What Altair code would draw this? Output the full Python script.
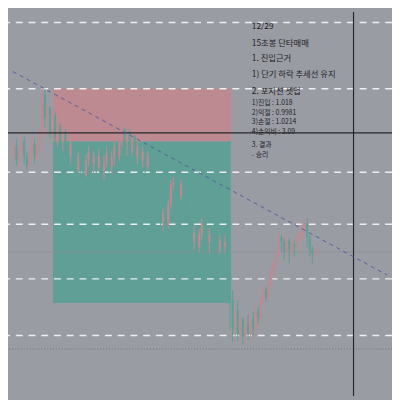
import altair as alt
import pandas as pd

# ---------------- data ----------------
# 15-second candles, prices
OPEN = [1.0150,1.0160,1.0145,1.0155,1.0165,1.0150,1.0140,1.0152,1.0162,1.0150,
        1.0160,1.0172,1.0215,1.0190,1.0200,1.0175,1.0192,1.0170,1.0180,1.0165,
        1.0175,1.0160,1.0150,1.0162,1.0145,1.0135,1.0150,1.0140,1.0130,1.0145,
        1.0155,1.0142,1.0150,1.0138,1.0150,1.0135,1.0142,1.0152,1.0140,1.0148,
        1.0160,1.0150,1.0170,1.0178,1.0165,1.0175,1.0155,1.0170,1.0150,1.0160,
        1.0145,1.0155,1.0140,1.0150,1.0135,1.0120,1.0105,1.0095,1.0082,1.0090,
        1.0078,1.0100,1.0120,1.0122,1.0118,1.0108,1.0120,1.0102,1.0090,1.0072,
        1.0060,1.0070,1.0055,1.0068,1.0080,1.0072,1.0060,1.0068,1.0062,1.0058,
        1.0052,1.0062,1.0055,1.0060,1.0050,1.0000,0.9970,0.9990,0.9965,0.9980,
        0.9962,0.9975,0.9965,0.9980,0.9970,0.9990,0.9982,1.0000,1.0010,1.0002,
        1.0018,1.0030,1.0038,1.0050,1.0065,1.0060,1.0050,1.0062,1.0052,1.0058,
        1.0055,1.0065,1.0068,1.0078,1.0080,1.0065,1.0052,1.0048]
HIGH = [1.0165,1.0168,1.0160,1.0172,1.0170,1.0155,1.0160,1.0175,1.0168,1.0165,
        1.0180,1.0223,1.0220,1.0205,1.0202,1.0198,1.0195,1.0192,1.0185,1.0180,
        1.0178,1.0165,1.0170,1.0165,1.0150,1.0155,1.0158,1.0145,1.0152,1.0160,
        1.0160,1.0155,1.0155,1.0157,1.0152,1.0150,1.0160,1.0158,1.0155,1.0165,
        1.0164,1.0175,1.0182,1.0180,1.0180,1.0178,1.0175,1.0172,1.0168,1.0162,
        1.0160,1.0160,1.0155,1.0152,1.0140,1.0125,1.0110,1.0100,1.0095,1.0094,
        1.0105,1.0125,1.0128,1.0127,1.0122,1.0126,1.0124,1.0105,1.0095,1.0078,
        1.0078,1.0075,1.0074,1.0085,1.0085,1.0078,1.0075,1.0074,1.0070,1.0064,
        1.0068,1.0070,1.0067,1.0065,1.0055,1.0010,0.9995,1.0000,0.9985,0.9982,
        0.9980,0.9985,0.9985,0.9988,0.9998,0.9994,1.0005,1.0016,1.0014,1.0022,
        1.0035,1.0042,1.0055,1.0070,1.0068,1.0064,1.0067,1.0065,1.0064,1.0062,
        1.0070,1.0072,1.0082,1.0084,1.0085,1.0068,1.0056,1.0054]
LOW  = [1.0145,1.0140,1.0138,1.0150,1.0142,1.0135,1.0137,1.0148,1.0142,1.0145,
        1.0155,1.0168,1.0180,1.0172,1.0168,1.0170,1.0165,1.0160,1.0158,1.0155,
        1.0150,1.0140,1.0142,1.0135,1.0128,1.0132,1.0130,1.0125,1.0128,1.0140,
        1.0135,1.0132,1.0130,1.0134,1.0128,1.0125,1.0138,1.0130,1.0132,1.0140,
        1.0142,1.0145,1.0160,1.0155,1.0150,1.0145,1.0150,1.0140,1.0142,1.0135,
        1.0138,1.0132,1.0135,1.0128,1.0115,1.0100,1.0088,1.0075,1.0072,1.0072,
        1.0075,1.0095,1.0115,1.0110,1.0104,1.0105,1.0097,1.0082,1.0065,1.0050,
        1.0052,1.0048,1.0050,1.0062,1.0060,1.0052,1.0050,1.0055,1.0050,1.0045,
        1.0048,1.0048,1.0050,1.0042,0.9970,0.9957,0.9955,0.9958,0.9960,0.9954,
        0.9952,0.9958,0.9960,0.9963,0.9965,0.9975,0.9978,0.9995,0.9998,1.0000,
        1.0014,1.0025,1.0035,1.0045,1.0050,1.0042,1.0044,1.0038,1.0048,1.0045,
        1.0050,1.0060,1.0062,1.0070,1.0055,1.0045,1.0038,1.0044]
CLOSE = [1.0160,1.0145,1.0155,1.0165,1.0150,1.0140,1.0152,1.0162,1.0150,1.0160,
         1.0172,1.0215,1.0190,1.0200,1.0175,1.0192,1.0170,1.0180,1.0165,1.0175,
         1.0160,1.0150,1.0162,1.0145,1.0135,1.0150,1.0140,1.0130,1.0145,1.0155,
         1.0142,1.0150,1.0138,1.0150,1.0135,1.0142,1.0152,1.0140,1.0148,1.0160,
         1.0150,1.0170,1.0178,1.0165,1.0175,1.0155,1.0170,1.0150,1.0160,1.0145,
         1.0155,1.0140,1.0150,1.0135,1.0120,1.0105,1.0095,1.0082,1.0090,1.0078,
         1.0100,1.0120,1.0122,1.0118,1.0108,1.0120,1.0102,1.0090,1.0072,1.0060,
         1.0070,1.0055,1.0068,1.0080,1.0072,1.0060,1.0068,1.0062,1.0058,1.0052,
         1.0062,1.0055,1.0060,1.0050,1.0000,0.9970,0.9990,0.9965,0.9980,0.9962,
         0.9975,0.9965,0.9980,0.9970,0.9990,0.9982,1.0000,1.0010,1.0002,1.0018,
         1.0030,1.0038,1.0050,1.0065,1.0060,1.0050,1.0062,1.0052,1.0058,1.0055,
         1.0065,1.0068,1.0078,1.0080,1.0065,1.0052,1.0048,1.0050]

DASHED_LEVELS = [1.0289, 1.0220, 1.0133, 1.0079, 1.0022, 0.9963]
DOTTED_LEVEL = [0.9949]
SOLID_LEVEL = [1.0174]
THIN_LEVEL = [1.0050]

# position box: start/end bar, stop, entry, target
BOX_START, BOX_END = 15.6, 84.7
BOX_STOP, BOX_ENTRY, BOX_TARGET = 1.0220, 1.0165, 0.9997

# trend line (bar index, price)
TREND_X = [0.0, 145.45]
TREND_Y = [1.0238, 1.0026]

VLINE_X = [132.4]

NOTE_LINES = ["12/29", "15초봉 단타매매", "1. 진입근거", "1) 단기 하락 추세선 유지",
              " 2. 포지션 셋업", "1)진입 : 1.018", "2)익절 : 0.9981", "3)손절 : 1.0214",
              "4)손익비 : 3.09", "3. 결과", "  - 승리"]

# ---------------- layout ----------------
W, H = 392, 392
S = W / 400.0
XDOM = [0, 145.45]
YDOM = [0.990, 1.030]

n = len(OPEN)
candles = pd.DataFrame({
    "i": [k + 0.4 for k in range(n)],
    "open": OPEN, "high": HIGH, "low": LOW, "close": CLOSE,
})
candles["dir"] = ["up" if c >= o else "down" for o, c in zip(OPEN, CLOSE)]

xs = alt.Scale(domain=XDOM, nice=False, zero=False)
ys = alt.Scale(domain=YDOM, nice=False, zero=False)
col = alt.Color("dir:N", scale=alt.Scale(domain=["up", "down"], range=["#2fa894", "#d86f7c"]), legend=None)

box = pd.DataFrame({
    "x": [BOX_START, BOX_START], "x2": [BOX_END, BOX_END],
    "y": [BOX_STOP, BOX_ENTRY], "y2": [BOX_ENTRY, BOX_TARGET],
    "kind": ["stop", "target"],
})
boxes = alt.Chart(box).mark_rect().encode(
    x=alt.X("x:Q", scale=xs, axis=None), x2="x2:Q",
    y=alt.Y("y:Q", scale=ys, axis=None), y2="y2:Q",
    color=alt.Color("kind:N", scale=alt.Scale(domain=["stop", "target"], range=["#bd8a91", "#5f9f96"]), legend=None),
)

thin = alt.Chart(pd.DataFrame({"y": THIN_LEVEL})).mark_rule(color="#8a8d95", strokeWidth=0.8).encode(
    y=alt.Y("y:Q", scale=ys, axis=None))

dashed = alt.Chart(pd.DataFrame({"y": DASHED_LEVELS})).mark_rule(
    color="#eceef2", strokeWidth=1.5, strokeDash=[7, 6]).encode(y=alt.Y("y:Q", scale=ys, axis=None))

dotted = alt.Chart(pd.DataFrame({"y": DOTTED_LEVEL})).mark_rule(
    color="#6d7078", strokeWidth=1, strokeDash=[1, 2]).encode(y=alt.Y("y:Q", scale=ys, axis=None))

wicks = alt.Chart(candles).mark_rule(strokeWidth=1.1).encode(
    x=alt.X("i:Q", scale=xs, axis=None),
    y=alt.Y("low:Q", scale=ys, axis=None), y2="high:Q", color=col)
bodies = alt.Chart(candles).mark_bar(size=2.2, opacity=1).encode(
    x=alt.X("i:Q", scale=xs, axis=None),
    y=alt.Y("open:Q", scale=ys, axis=None), y2="close:Q", color=col)

solid = alt.Chart(pd.DataFrame({"y": SOLID_LEVEL})).mark_rule(color="#26262a", strokeWidth=1.2).encode(
    y=alt.Y("y:Q", scale=ys, axis=None))

vline = alt.Chart(pd.DataFrame({"x": VLINE_X})).mark_rule(color="#26262a", strokeWidth=1.2).encode(
    x=alt.X("x:Q", scale=xs, axis=None))

trend = alt.Chart(pd.DataFrame({"x": TREND_X, "y": TREND_Y})).mark_line(
    color="#565c9c", strokeWidth=1, strokeDash=[4, 4]).encode(
    x=alt.X("x:Q", scale=xs, axis=None), y=alt.Y("y:Q", scale=ys, axis=None))

note_y = [15, 32, 48, 65, 82, 95, 105, 115, 125, 139, 149]
note_size = [8.5, 8.5, 8.5, 8.5, 8.5, 7, 7, 7, 7, 7, 7]
notes = []
for t, yy, fs in zip(NOTE_LINES, note_y, note_size):
    notes.append(alt.Chart(pd.DataFrame({"t": [t]})).mark_text(
        align="left", baseline="middle", font="Noto Sans CJK KR", fontSize=fs, color="#1f1f25").encode(
        x=alt.value(254 * S), y=alt.value(yy * S), text="t:N"))

chart = alt.layer(boxes, thin, dashed, dotted, wicks, bodies, solid, vline, trend, *notes).properties(
    width=W, height=H, padding=0, autosize="none", background="#9a9ca4"
).configure_view(stroke=None)

chart.save("out.html", embed_options={"renderer": "svg", "actions": False})
